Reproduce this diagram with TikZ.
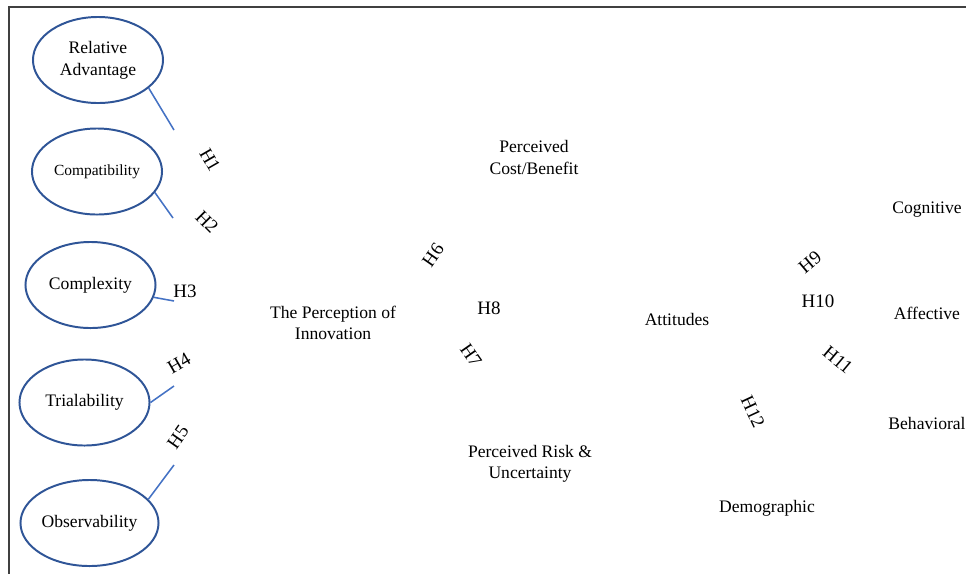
\documentclass[tikz,border=0pt]{standalone}
\usepackage{fontspec}
\setmainfont{Liberation Serif}
\usepackage{tikz}
\usetikzlibrary{shapes.geometric}

\definecolor{ovalblue}{HTML}{2F5597}
\definecolor{linkblue}{HTML}{4472C4}

\tikzset{
  factor/.style={ellipse, draw=ovalblue, line width=1.4pt, minimum width=3.25cm,
                 minimum height=2.15cm, inner sep=0pt, align=center,
                 font=\fontsize{12.5}{15.5}\selectfont},
  link/.style={draw=linkblue, line width=1.1pt},
  hyp/.style={inner sep=0pt, font=\fontsize{13.5}{15}\selectfont},
  concept/.style={inner sep=0pt, align=center, font=\fontsize{12.5}{15}\selectfont}
}

\begin{document}
\begin{tikzpicture}[x=0.025cm, y=-0.025cm]

\useasboundingbox (0,0) rectangle (966,574);

%frame
\draw [line width=1pt, black!75] (966,7)--(9,7)--(9,574);

%attributes of the innovation
\node[factor] (ra)  at (98,60)    {Relative\\Advantage};
\node[factor, font=\fontsize{11}{13}\selectfont] (cmp) at (97,171.5) {Compatibility};
\node[factor] (cx)  at (90.5,285) {Complexity};
\node[factor] (tr)  at (84.5,402.5) {Trialability};
\node[factor, minimum width=3.45cm] (ob) at (89.5,523) {Observability};
%
\coordinate (ra')  at (174,130);
\coordinate (cmp') at (173,218);
\coordinate (cx')  at (174,301);
\coordinate (tr')  at (174,386);
\coordinate (ob')  at (174,465);

\draw [link] (ra.-29)  -- (ra');	 %ra--H1
\draw [link] (cmp.-20) -- (cmp');	 %cmp--H2
\draw [link] (cx.-11)  -- (cx');	 %cx--H3
\draw [link] (tr.0)    -- (tr');	 %tr--H4
\draw [link] (ob.22)   -- (ob');	 %ob--H5

%concepts
\node[concept] (pci) at (333,322.5) {The Perception of\\Innovation};
\node[concept] (pcb) at (534,157.5) {Perceived\\Cost/Benefit};
\node[concept] (pru) at (530,463.5) {Perceived Risk \&\\Uncertainty};
\node[concept] (att) at (677,319)   {Attitudes};
\node[concept] (dem) at (767,508)   {Demographic};
\node[concept] (cog) at (927,210)   {Cognitive};
\node[concept] (aff) at (927,313)   {Affective};
\node[concept] (beh) at (927,423)   {Behavioral};

%labels
\node[hyp, rotate=-60] (h1)  at (210,160) {H1};
\node[hyp, rotate=-45] (h2)  at (207,222) {H2};
\node[hyp]             (h3)  at (185,291) {H3};
\node[hyp, rotate=30]  (h4)  at (179,363) {H4};
\node[hyp, rotate=55]  (h5)  at (178,437) {H5};
%
\node[hyp, rotate=55]  (h6)  at (433,255) {H6};
\node[hyp, rotate=-55] (h7)  at (471,355) {H7};
\node[hyp]             (h8)  at (489,308) {H8};
%
\node[hyp, rotate=40]  (h9)  at (810,262) {H9};
\node[hyp]             (h10) at (818,301) {H10};
\node[hyp, rotate=-40] (h11) at (838,360) {H11};
\node[hyp, rotate=-65] (h12) at (753,412) {H12};

\end{tikzpicture}
\end{document}
